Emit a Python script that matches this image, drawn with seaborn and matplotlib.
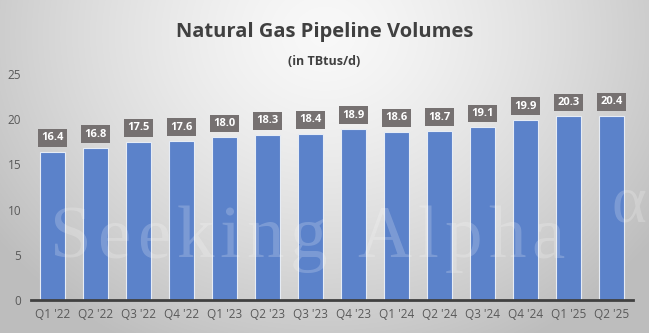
import numpy as np
import pandas as pd
import matplotlib
matplotlib.use("Agg")
import matplotlib.pyplot as plt
import seaborn as sns

quarters = ["Q1 '22", "Q2 '22", "Q3 '22", "Q4 '22",
            "Q1 '23", "Q2 '23", "Q3 '23", "Q4 '23",
            "Q1 '24", "Q2 '24", "Q3 '24", "Q4 '24",
            "Q1 '25", "Q2 '25"]
volumes = [16.4, 16.8, 17.5, 17.6,
           18.0, 18.3, 18.4, 18.9,
           18.6, 18.7, 19.1, 19.9,
           20.3, 20.4]
y_ticks = [0, 5, 10, 15, 20, 25]

df = pd.DataFrame({"quarter": quarters, "volume": volumes})

sns.set_theme(style="white")
plt.rcParams["font.family"] = ["Open Sans", "DejaVu Sans"]

W, H = 649, 333
fig = plt.figure(figsize=(W / 100, H / 100), dpi=100)

# radial grey background, brightest near the top centre
bg = fig.add_axes([0, 0, 1, 1], zorder=-2)
yy, xx = np.mgrid[0:H, 0:W]
r = np.sqrt(((xx - W * 0.5) / (W * 0.62)) ** 2 + ((yy - H * 0.1) / (H * 1.05)) ** 2)
r = np.clip(r, 0, 1)
shade = 0.975 - 0.23 * r ** 1.4
bg.imshow(np.dstack([shade] * 3), aspect="auto", extent=[0, 1, 0, 1], origin="upper")
bg.set_axis_off()

ax = fig.add_axes([31 / W, 33 / H, 602 / W, (300 - 74) / H])
ax.patch.set_alpha(0)
sns.barplot(data=df, x="quarter", y="volume", ax=ax, color="#5b82ca",
            saturation=1, width=0.58, edgecolor="#e6ecf5", linewidth=0.8)

ax.set_ylim(0, 25)
ax.set_xlim(-0.5, len(quarters) - 0.5)
ax.set_yticks(y_ticks)
ax.set_xlabel("")
ax.set_ylabel("")
ax.tick_params(axis="both", length=0, labelsize=8.5, colors="#595959")
ax.tick_params(axis="x", pad=6)
ax.tick_params(axis="y", pad=7)
for s in ["top", "right", "left"]:
    ax.spines[s].set_visible(False)
ax.spines["bottom"].set_color("#404040")
ax.spines["bottom"].set_linewidth(2)

# value labels in dark grey boxes
for i, v in enumerate(volumes):
    ax.annotate(f"{v:.1f}", xy=(i, v), xytext=(0, 10), textcoords="offset points",
                ha="center", va="center", fontsize=8, fontweight="bold", color="white",
                bbox=dict(boxstyle="square,pad=0.3", fc="#767171", ec="none"))

# watermark, drawn letter by letter with wide tracking
renderer = fig.canvas.get_renderer()
wm_style = dict(fontsize=54, family="Liberation Serif", color="white", alpha=0.2,
                ha="left", va="baseline", zorder=5)
x_px, base_y = 50, 1 - 257 / H
for ch in "Seeking Alpha":
    if ch == " ":
        x_px += 24
        continue
    t = fig.text(x_px / W, base_y, ch, **wm_style)
    x_px += t.get_window_extent(renderer).width + 6
fig.text(612 / W, 1 - 222 / H, "\u03b1", **{**wm_style, "fontsize": 48})

fig.text(0.5, 0.905, "Natural Gas Pipeline Volumes", ha="center", va="center",
         fontsize=14.5, fontweight="bold", color="#404040")
fig.text(0.5, 0.815, "(in TBtus/d)", ha="center", va="center",
         fontsize=9, fontweight="bold", color="#404040")

fig.savefig("out.png", dpi=100)
